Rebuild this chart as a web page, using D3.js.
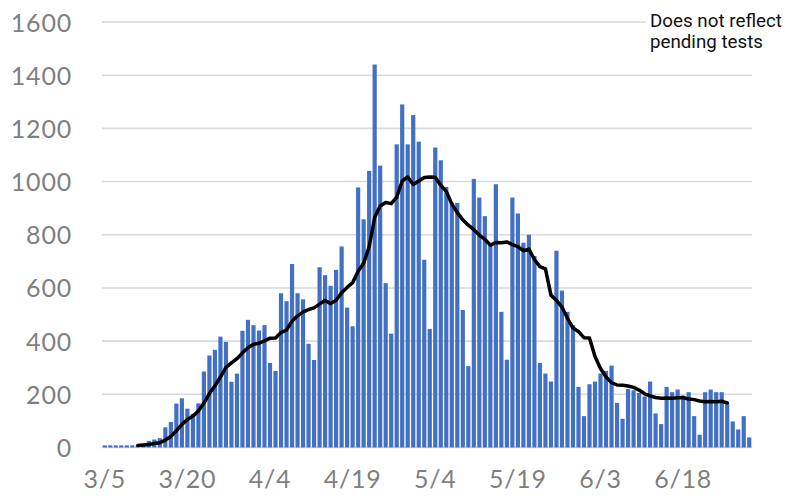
<!DOCTYPE html>
<html>
<head>
<meta charset="utf-8">
<script src="https://cdn.jsdelivr.net/npm/d3@7"></script>
<style>
  html, body { margin: 0; padding: 0; background: #fff; }
  svg { display: block; }
</style>
</head>
<body>
<svg id="chart" width="785" height="502"></svg>
<script>
// ---- data ----
const startDate = "2020-03-05";
const dayCount = 118; // 3/5 .. 6/30

const dailyCases = [
  8, 8, 8, 8, 8, 8, 8, 15, 25, 30,
  35, 76, 96, 165, 185, 146, 126, 166, 286, 346,
  367, 417, 397, 247, 278, 439, 480, 460, 440, 460,
  318, 288, 580, 550, 690, 580, 557, 390, 329, 678,
  648, 608, 668, 756, 526, 456, 978, 858, 1040, 1440,
  1060, 618, 428, 1140, 1290, 1140, 1250, 1150, 706, 446,
  1128, 1080, 980, 920, 920, 517, 306, 1010, 940, 870,
  762, 990, 510, 330, 940, 880, 770, 800, 720, 318,
  278, 248, 740, 590, 510, 460, 228, 118, 238, 248,
  278, 288, 308, 168, 108, 220, 215, 205, 192, 248,
  128, 88, 228, 208, 218, 195, 208, 118, 48, 208,
  218, 208, 208, 168, 98, 68, 118, 38
];

const avgStartIndex = 6;
const movingAverage = [
  8, 9, 11, 15, 18, 28, 41, 63, 87, 105,
  118, 137, 167, 203, 232, 265, 301, 318, 334, 356,
  375, 388, 392, 401, 411, 412, 432, 442, 475, 495,
  509, 519, 525, 539, 553, 541, 554, 582, 602, 620,
  663, 693, 755, 865, 908, 921, 917, 941, 1002, 1017,
  989, 1002, 1015, 1017, 1016, 986, 963, 916, 883, 856,
  836, 819, 799, 783, 761, 771, 770, 773, 763, 755,
  740, 746, 707, 680, 672, 573, 553, 528, 486, 449,
  436, 413, 412, 342, 297, 265, 244, 235, 234, 231,
  226, 216, 202, 194, 188, 185, 186, 185, 187, 188,
  182, 180, 175, 172, 173, 172, 174, 168
];

const yTicks = [0, 200, 400, 600, 800, 1000, 1200, 1400, 1600];
const xTickLabels = ["3/5", "3/20", "4/4", "4/19", "5/4", "5/19", "6/3", "6/18"];
const noteLines = ["Does not reflect", "pending tests"];

// ---- build categories ----
const fmt = d3.timeFormat("%-m/%-d");
const d0 = d3.timeParse("%Y-%m-%d")(startDate);
const categories = d3.range(dayCount).map(i => fmt(d3.timeDay.offset(d0, i)));

const rows = categories.map((c, i) => ({
  cat: c,
  value: dailyCases[i],
  avg: (i >= avgStartIndex && i - avgStartIndex < movingAverage.length) ? movingAverage[i - avgStartIndex] : null
}));

// ---- scales ----
const svg = d3.select("#chart");
const x = d3.scaleBand().domain(categories).range([102, 752]).paddingInner(0.24).paddingOuter(0.12);
const y = d3.scaleLinear().domain([0, 1600]).range([447.5, 22]);

// gridlines
svg.append("g")
  .selectAll("line")
  .data(yTicks)
  .join("line")
  .attr("x1", 102).attr("x2", 752)
  .attr("y1", d => y(d)).attr("y2", d => y(d))
  .attr("stroke", "#d9d9d9")
  .attr("stroke-width", 1.6);

// y axis labels
const yAxis = d3.axisLeft(y).tickValues(yTicks).tickFormat(d3.format("d")).tickSize(0).tickPadding(0);
svg.append("g")
  .attr("transform", "translate(72,0)")
  .call(yAxis)
  .call(g => g.select(".domain").remove())
  .call(g => g.selectAll("text")
    .attr("font-family", "Lato, 'Open Sans', sans-serif")
    .attr("font-size", 25)
    .attr("letter-spacing", 0.8)
    .attr("fill", "#7f7f7f")
    .attr("dy", "0.36em"));

// bars
svg.append("g")
  .selectAll("rect")
  .data(rows)
  .join("rect")
  .attr("x", d => x(d.cat))
  .attr("width", x.bandwidth())
  .attr("y", d => y(d.value))
  .attr("height", d => y(0) - y(d.value))
  .attr("fill", "#4270c4");

// moving-average line
const line = d3.line()
  .defined(d => d.avg !== null)
  .x(d => x(d.cat) + x.bandwidth() / 2)
  .y(d => y(d.avg))
  .curve(d3.curveLinear);

svg.append("path")
  .datum(rows)
  .attr("d", line)
  .attr("fill", "none")
  .attr("stroke", "#000")
  .attr("stroke-width", 3.5)
  .attr("stroke-linejoin", "round")
  .attr("stroke-linecap", "round");

// x axis labels
const xTickCats = categories.filter(c => xTickLabels.includes(c));
const xAxis = d3.axisBottom(x).tickValues(xTickCats).tickSize(0).tickPadding(0);
svg.append("g")
  .attr("transform", "translate(0,470)")
  .call(xAxis)
  .call(g => g.select(".domain").remove())
  .call(g => g.selectAll("text")
    .attr("font-family", "Lato, 'Open Sans', sans-serif")
    .attr("font-size", 25)
    .attr("letter-spacing", 0.8)
    .attr("fill", "#7f7f7f")
    .attr("dy", "0.71em"));

// annotation with white background
const note = svg.append("g");
note.append("rect")
  .attr("x", 646).attr("y", 6).attr("width", 139).attr("height", 50)
  .attr("fill", "#fff");
note.selectAll("text")
  .data(noteLines)
  .join("text")
  .attr("x", 650)
  .attr("y", (d, i) => 27 + i * 21)
  .attr("font-family", "Roboto, sans-serif")
  .attr("font-size", 17.5)
  .attr("textLength", (d, i) => i === 0 ? 132 : 113)
  .attr("lengthAdjust", "spacingAndGlyphs")
  .attr("fill", "#111")
  .text(d => d);
</script>
</body>
</html>
